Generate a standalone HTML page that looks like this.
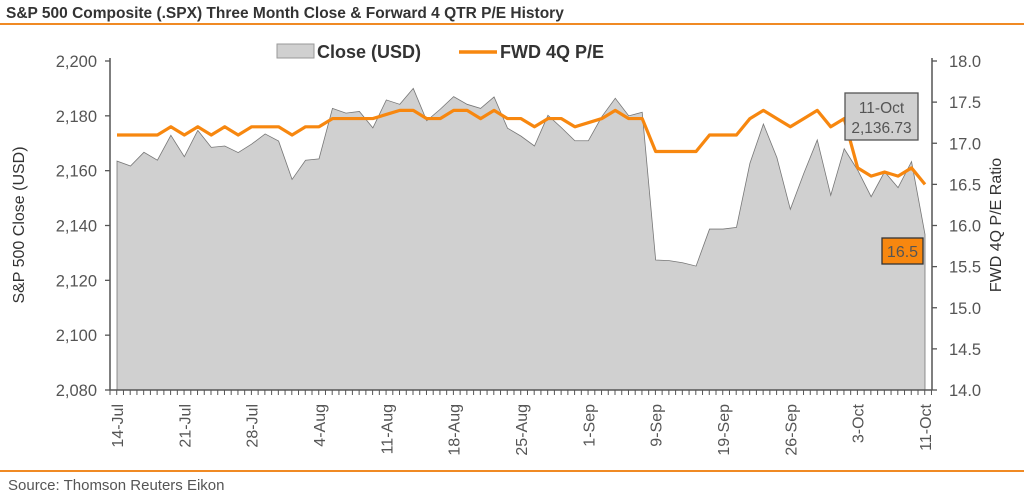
<!DOCTYPE html>
<html><head><meta charset="utf-8">
<style>
body{margin:0;background:#fff;font-family:"Liberation Sans",sans-serif;}
svg text{font-family:"Liberation Sans",sans-serif;fill:#555;}
</style></head>
<body>
<svg width="1024" height="497" viewBox="0 0 1024 497">
<text x="6" y="18" font-size="15.5" font-weight="bold" style="fill:#333">S&amp;P 500 Composite (.SPX) Three Month Close &amp; Forward 4 QTR P/E History</text>
<line x1="0" y1="24" x2="1024" y2="24" stroke="#f08a24" stroke-width="2"/>
<line x1="0" y1="471" x2="1024" y2="471" stroke="#f08a24" stroke-width="2"/>
<text x="8" y="490" font-size="15">Source: Thomson Reuters Eikon</text>
<g>
<rect x="277" y="44" width="37" height="14" fill="#d0d0d0" stroke="#999"/>
<text x="317" y="58" font-size="18" font-weight="bold" style="fill:#333">Close (USD)</text>
<line x1="459" y1="52" x2="497" y2="52" stroke="#f7870f" stroke-width="3.5"/>
<text x="500" y="58" font-size="18" font-weight="bold" style="fill:#333">FWD 4Q P/E</text>
</g>
<g id="plot"></g>
<text transform="translate(24,225) rotate(-90)" text-anchor="middle" font-size="16" style="fill:#333">S&amp;P 500 Close (USD)</text>
<text transform="translate(1001,225) rotate(-90)" text-anchor="middle" font-size="16" style="fill:#333">FWD 4Q P/E Ratio</text>
</svg>
<script>
const closeVals=[2163.5,2161.7,2166.7,2163.8,2172.9,2165.1,2174.7,2168.5,2169,2166.6,2169.7,2173.4,2170.8,2156.8,2163.8,2164.3,2182.7,2181,2181.6,2175.6,2185.8,2184.2,2190,2178.2,2182.4,2187,2184.2,2182.7,2186.9,2175.5,2172.6,2169,2180.2,2175.7,2170.9,2170.9,2179.7,2186.4,2180,2181.3,2127.4,2127.2,2126.4,2125.2,2138.7,2138.7,2139.3,2162.7,2177,2164.8,2145.9,2159,2171.2,2151,2168,2160.2,2150.5,2159.6,2153.8,2163.3,2136.73];
const peVals=[17.1,17.1,17.1,17.1,17.2,17.1,17.2,17.1,17.2,17.1,17.2,17.2,17.2,17.1,17.2,17.2,17.3,17.3,17.3,17.3,17.35,17.4,17.4,17.3,17.3,17.4,17.4,17.3,17.4,17.3,17.3,17.2,17.3,17.3,17.2,17.25,17.3,17.4,17.3,17.3,16.9,16.9,16.9,16.9,17.1,17.1,17.1,17.3,17.4,17.3,17.2,17.3,17.4,17.2,17.3,16.7,16.6,16.65,16.6,16.7,16.5];
const leftTicks=[2080,2100,2120,2140,2160,2180,2200];
const leftTickLabels=["2,080","2,100","2,120","2,140","2,160","2,180","2,200"];
const rightTicks=[14,14.5,15,15.5,16,16.5,17,17.5,18];
const xLabels=[[0,"14-Jul"],[5,"21-Jul"],[10,"28-Jul"],[15,"4-Aug"],[20,"11-Aug"],[25,"18-Aug"],[30,"25-Aug"],[35,"1-Sep"],[40,"9-Sep"],[45,"19-Sep"],[50,"26-Sep"],[55,"3-Oct"],[60,"11-Oct"]];
const NS="http://www.w3.org/2000/svg";
const g=document.getElementById('plot');
const X0=117,X1=925,Y0=61,Y1=390,LAX=110,RAX=932;
const n=closeVals.length;
const xs=i=>X0+(X1-X0)*i/(n-1);
const yL=v=>Y1-(v-2080)/(2200-2080)*(Y1-Y0);
const yR=v=>Y1-(v-14)/(18-14)*(Y1-Y0);
function mk(t,a){const e=document.createElementNS(NS,t);for(const k in a)e.setAttribute(k,a[k]);g.appendChild(e);return e;}
let d=`M${xs(0)},${Y1}`;closeVals.forEach((v,i)=>d+=` L${xs(i)},${yL(v)}`);d+=` L${xs(n-1)},${Y1} Z`;
let a=mk('path',{d:d,fill:'#d0d0d0',stroke:'#777','stroke-width':0.8});


let pd='';peVals.forEach((v,i)=>pd+=(i?' L':'M')+xs(i)+','+yR(v));
let pl=mk('path',{d:pd,fill:'none',stroke:'#f7870f','stroke-width':3.2,'stroke-linejoin':'round'});


let ax=mk('path',{d:`M${LAX},${Y0-3} V${Y1} H${RAX} M${RAX},${Y0-3} V${Y1}`,fill:'none',stroke:'#555','stroke-width':1.5});


leftTicks.forEach((v,i)=>{const y=yL(v);mk('line',{x1:LAX-5,x2:LAX,y1:y,y2:y,stroke:'#555','stroke-width':1.3});
const t=mk('text',{x:LAX-13,y:y+6,'text-anchor':'end','font-size':16.5});t.textContent=leftTickLabels[i];

});
rightTicks.forEach(v=>{const y=yR(v);mk('line',{x1:RAX,x2:RAX+5,y1:y,y2:y,stroke:'#555','stroke-width':1.3});
const t=mk('text',{x:RAX+17,y:y+6,'font-size':16.5});t.textContent=v.toFixed(1);

});
for(let k=0;k<=2*(n-1)+2;k++){const x=LAX+k*(X1-X0)/(2*(n-1));if(x>RAX)break;mk('line',{x1:x,x2:x,y1:Y1,y2:Y1+5,stroke:'#555','stroke-width':1});}
xLabels.forEach(([i,s])=>{const x=xs(i);const t=mk('text',{transform:`translate(${x+6},${Y1+14}) rotate(-90)`,'text-anchor':'end','font-size':16});t.textContent=s;

});
let b=mk('rect',{x:845,y:93,width:73,height:47,fill:'#d0d0d0',stroke:'#555','stroke-width':1.3});


let t1=mk('text',{x:881.5,y:113,'text-anchor':'middle','font-size':15.5});t1.textContent='11-Oct';


let t2=mk('text',{x:881.5,y:133,'text-anchor':'middle','font-size':15.5});t2.textContent=closeVals[n-1].toLocaleString('en-US',{minimumFractionDigits:2});


let ob=mk('rect',{x:882,y:238,width:41,height:26,fill:'#f7870f',stroke:'#333','stroke-width':1.3});


let ot=mk('text',{x:902.5,y:257,'text-anchor':'middle','font-size':16});ot.textContent=peVals[n-1].toFixed(1);


</script>
</body></html>
